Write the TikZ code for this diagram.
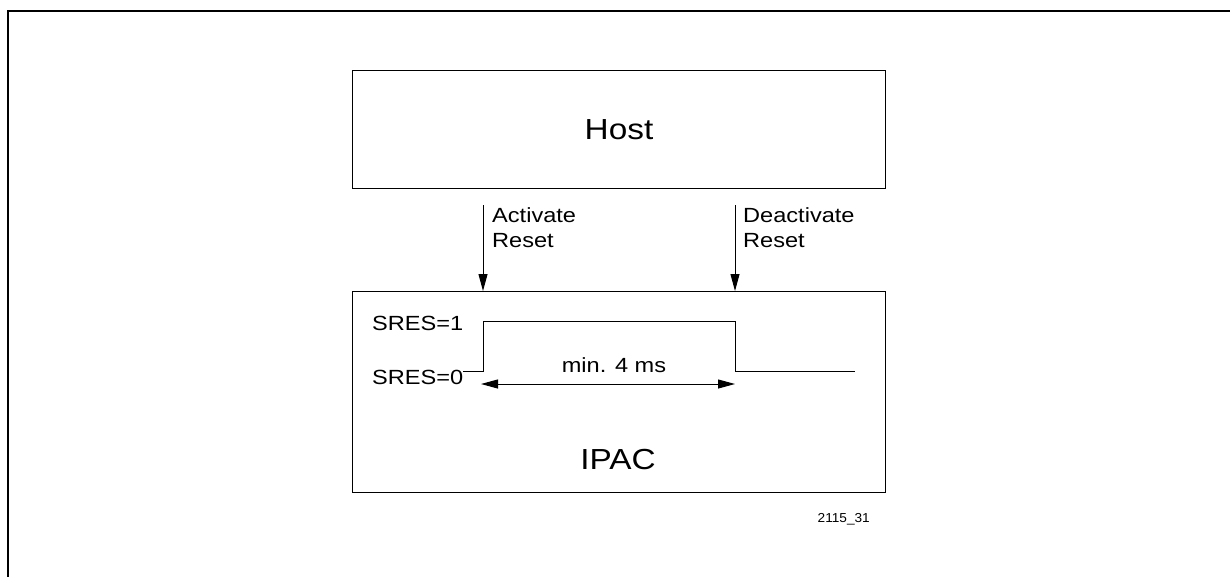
\documentclass[tikz,border=0pt]{standalone}
\usepackage{fontspec}
\setmainfont{Liberation Sans}
\newfontfamily\wide[FakeStretch=1.15]{Liberation Sans}
\newfontfamily\widesm[FakeStretch=1.05]{Liberation Sans}
\usetikzlibrary{arrows.meta}
\tikzset{
  box/.style={draw=black,line width=1.1pt},
  big/.style={font=\wide\fontsize{29}{34}\selectfont,inner sep=0pt},
  lab/.style={font=\wide\fontsize{20.5}{25}\selectfont,inner sep=0pt,align=left},
  small/.style={font=\widesm\fontsize{13}{15}\selectfont,inner sep=0pt},
  sig/.style={line width=1pt},
  tip/.style={-{Triangle[length=17pt,width=9pt]},line width=1pt}
}
\begin{document}
\begin{tikzpicture}[x=1pt,y=-1pt]
\useasboundingbox (0,0) rectangle (1230,576);
\draw[line width=2pt] (8,580) -- (8,11) -- (1234,11);
\node[box,minimum width=533pt,minimum height=118pt,anchor=north west] (host) at (352,70) {};
\node[box,minimum width=533pt,minimum height=201pt,anchor=north west] (ipac) at (352,291) {};
\node[big] (hostl) at (619,130) {Host};
\node[big] (ipacl) at (618,460) {IPAC};
\coordinate (a1) at (483,205);
\coordinate (a2) at (735,205);
\draw[tip] (a1) -- (a1 |- ipac.north);
\draw[tip] (a2) -- (a2 |- ipac.north);
\node[lab,anchor=north west] (act) at (492,207) {Activate\\[0pt]Reset};
\node[lab,anchor=north west] (deact) at (743,207) {Deactivate\\[0pt]Reset};
\node[lab,anchor=base west] (s1) at (372,330) {SRES=1};
\node[lab,anchor=base west] (s0) at (372,384) {SRES=0};
\coordinate (w0) at (s0.east |- 0,371);
\coordinate (w1) at (483,371);
\coordinate (w2) at (483,321);
\coordinate (w3) at (735,321);
\coordinate (w4) at (735,371);
\coordinate (w5) at (855,371);
\draw[sig] (w0) -- (w1) -- (w2) -- (w3) -- (w4) -- (w5);
\coordinate (d1) at (481,384);
\coordinate (d2) at (735,384);
\draw[line width=1pt,{Triangle[length=17pt,width=9pt]}-{Triangle[length=17pt,width=9pt]}] (d1) -- (d2);
\node[lab,anchor=base] (min) at (614,372) {min. 4 ms};
\node[small,anchor=base east] (fig) at (870,522) {2115\_31};
\end{tikzpicture}
\end{document}
